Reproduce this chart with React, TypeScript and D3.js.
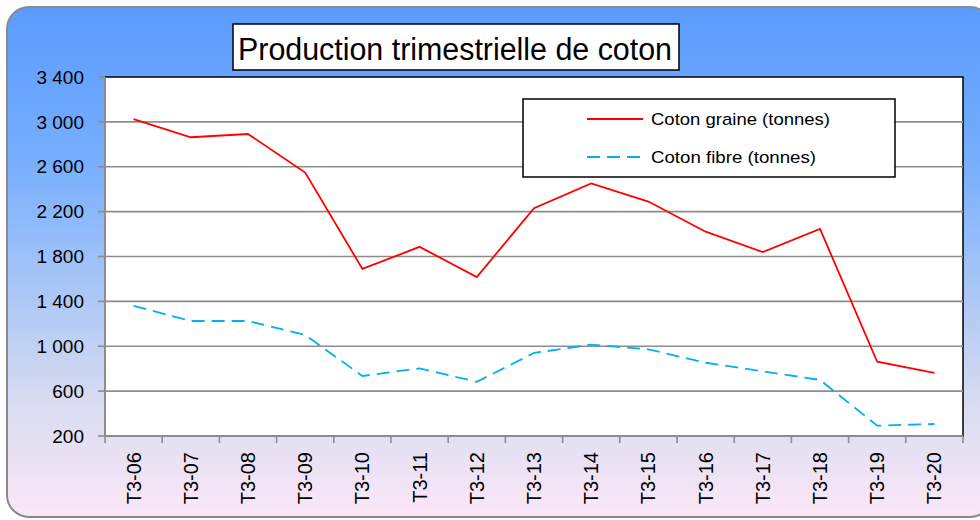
import React from "react";
import * as d3 from "d3";

const categories = ["T3-06","T3-07","T3-08","T3-09","T3-10","T3-11","T3-12","T3-13","T3-14","T3-15","T3-16","T3-17","T3-18","T3-19","T3-20"];
const cotonGraine = [3025, 2863, 2892, 2548, 1689, 1886, 1617, 2230, 2452, 2290, 2021, 1840, 2046, 862, 762];
const cotonFibre = [1360, 1225, 1225, 1100, 735, 803, 683, 940, 1014, 973, 853, 777, 700, 292, 307];
const yTicks = [200, 600, 1000, 1400, 1800, 2200, 2600, 3000, 3400];
const seriesNames = ["Coton graine (tonnes)", "Coton fibre (tonnes)"];
const title = "Production trimestrielle de coton";

const W = 980, H = 520;
const plot = { left: 105, top: 77, right: 963, bottom: 436 };
const FONT = "'Liberation Sans', Arial, sans-serif";

export default function App() {
  const x = d3.scaleBand<string>().domain(categories).range([plot.left, plot.right]);
  const y = d3.scaleLinear().domain([200, 3400]).range([plot.bottom, plot.top]);
  const line = d3.line<number>()
    .x((_, i) => (x(categories[i]) as number) + x.bandwidth() / 2)
    .y((d) => y(d));
  const fmt = (v: number) => d3.format(",")(v).replace(",", " ");
  const boundaries = d3.range(categories.length + 1).map((i) => plot.left + i * x.bandwidth());

  return (
    <svg width={W} height={H} style={{ position: "absolute", left: 0, top: 0 }} fontFamily={FONT}>
      <defs>
        <linearGradient id="bg" x1="0" y1="0" x2="0" y2="1">
          <stop offset="0" stopColor="#5b9bff" />
          <stop offset="0.3" stopColor="#76aefe" />
          <stop offset="0.55" stopColor="#a9c6f6" />
          <stop offset="0.78" stopColor="#d9dcf0" />
          <stop offset="1" stopColor="#fbe7f8" />
        </linearGradient>
      </defs>
      <rect x={7} y={7} width={985} height={510} rx={22} fill="url(#bg)" stroke="#8a8a8a" strokeWidth={2} />
      <rect x={plot.left} y={plot.top} width={plot.right - plot.left} height={plot.bottom - plot.top} fill="#ffffff" stroke="#000" strokeWidth={1.5} />
      {yTicks.map((t) => (
        <g key={t}>
          {t > 200 && t < 3400 && (
            <line x1={plot.left} x2={plot.right} y1={y(t)} y2={y(t)} stroke="#8c8c8c" strokeWidth={1.6} />
          )}
          <line x1={plot.left - 7} x2={plot.left} y1={y(t)} y2={y(t)} stroke="#8c8c8c" strokeWidth={1.6} />
          <text x={84} y={y(t)} dy="0.35em" textAnchor="end" fontSize={19} fill="#000">{fmt(t)}</text>
        </g>
      ))}
      <line x1={plot.left} x2={plot.left} y1={plot.top} y2={plot.bottom} stroke="#8c8c8c" strokeWidth={2} />
      <line x1={plot.left} x2={plot.right} y1={plot.bottom} y2={plot.bottom} stroke="#8c8c8c" strokeWidth={2} />
      {boundaries.map((bx, i) => (
        <line key={i} x1={bx} x2={bx} y1={plot.bottom} y2={plot.bottom + 7} stroke="#8c8c8c" strokeWidth={1.6} />
      ))}
      {categories.map((c) => {
        const cx = (x(c) as number) + x.bandwidth() / 2;
        return (
          <text key={c} transform={`translate(${cx + 7},452) rotate(-90)`} textAnchor="end" fontSize={20} fill="#000">{c}</text>
        );
      })}
      <path d={line(cotonGraine) || ""} fill="none" stroke="#ff0000" strokeWidth={1.8} />
      <path d={line(cotonFibre) || ""} fill="none" stroke="#00b0f0" strokeWidth={1.8} strokeDasharray="13,7" />
      <rect x={233} y={24} width={446} height={46} fill="#fff" stroke="#000" strokeWidth={1.5} />
      <text x={238} y={60} fontSize={31} fill="#000" textLength={434} lengthAdjust="spacingAndGlyphs">{title}</text>
      <rect x={523} y={99} width={372} height={78} fill="#fff" stroke="#000" strokeWidth={1.5} />
      <line x1={587} x2={643} y1={119} y2={119} stroke="#ff0000" strokeWidth={1.8} />
      <line x1={587} x2={643} y1={157} y2={157} stroke="#00b0f0" strokeWidth={1.8} strokeDasharray="13,7" />
      <text x={651} y={125} fontSize={17} fill="#000" textLength={179} lengthAdjust="spacingAndGlyphs">{seriesNames[0]}</text>
      <text x={651} y={163} fontSize={17} fill="#000" textLength={165} lengthAdjust="spacingAndGlyphs">{seriesNames[1]}</text>
    </svg>
  );
}
